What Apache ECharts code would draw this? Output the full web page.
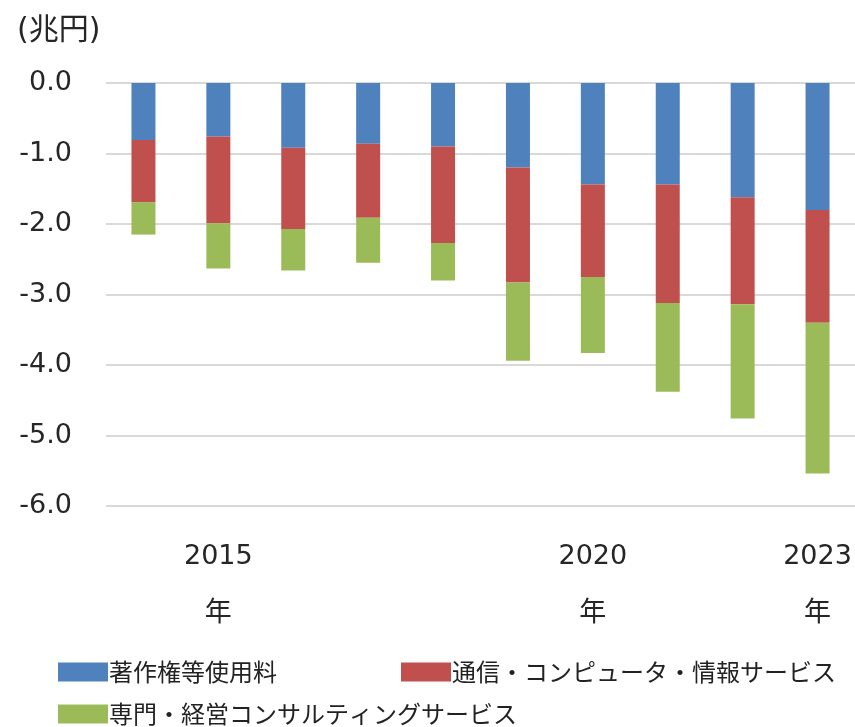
<!DOCTYPE html>
<html>
<head>
<meta charset="utf-8">
<script src="https://cdn.jsdelivr.net/npm/echarts@6/dist/echarts.min.js"></script>
<style>
html,body{margin:0;padding:0;background:#fff;}
#chart{width:855px;height:727px;}
</style>
</head>
<body>
<div id="chart"></div>
<script>
var categories = ['2014','2015','2016','2017','2018','2019','2020','2021','2022','2023'];
var tickLabels = ['', '2015\n年', '', '', '', '', '2020\n年', '', '', '2023\n年'];
var seriesNames = ['著作権等使用料', '通信・コンピュータ・情報サービス', '専門・経営コンサルティングサービス'];
var copyright = [-0.81, -0.76, -0.92, -0.86, -0.90, -1.20, -1.44, -1.44, -1.62, -1.80];
var telecom   = [-0.88, -1.23, -1.15, -1.05, -1.37, -1.63, -1.31, -1.68, -1.52, -1.60];
var consult   = [-0.46, -0.64, -0.59, -0.64, -0.53, -1.11, -1.08, -1.26, -1.62, -2.14];
var yTicks = { min: -6, max: 0, interval: 1 };
var colors = ['#4f81bd', '#c0504d', '#9bbb59'];

var font = 'DejaVu Sans, "Noto Sans CJK JP", sans-serif';
var cjk = '"Noto Sans CJK JP", sans-serif';
var chart = echarts.init(document.getElementById('chart'), null, {renderer: 'canvas'});

function legendFor(i, left, top) {
  return {
    data: [seriesNames[i]],
    left: left, top: top,
    itemWidth: 50, itemHeight: 19, itemGap: 0,
    icon: 'rect',
    selectedMode: false,
    textStyle: { fontFamily: cjk, fontSize: 24, color: '#222', padding: [0, 0, 0, -4] },
    padding: 0
  };
}

chart.setOption({
  animation: false,
  color: colors,
  title: {
    text: '(兆円)', left: 12, top: 11,
    textStyle: { fontFamily: font, fontSize: 30, fontWeight: 'normal', color: '#262626' }
  },
  grid: { left: 106, right: 0, top: 83, bottom: 221, containLabel: false },
  legend: [
    legendFor(0, 58, 660),
    legendFor(1, 401, 660),
    legendFor(2, 58, 702)
  ],
  xAxis: {
    type: 'category',
    data: categories,
    position: 'bottom',
    axisLine: { show: false, onZero: false },
    axisTick: { show: false },
    axisLabel: {
      interval: 0, margin: 22,
      fontFamily: font, fontSize: 27, color: '#262626', lineHeight: 57,
      formatter: function (v, idx) { return tickLabels[idx]; }
    }
  },
  yAxis: {
    type: 'value',
    min: yTicks.min, max: yTicks.max, interval: yTicks.interval,
    axisLine: { show: false },
    axisTick: { show: false },
    splitLine: { lineStyle: { color: '#d9d9d9', width: 2 } },
    axisLabel: {
      margin: 34, fontFamily: font, fontSize: 27, color: '#262626',
      formatter: function (v) { return v.toFixed(1); }
    }
  },
  series: [
    { name: seriesNames[0], type: 'bar', stack: 'a', barWidth: 24, data: copyright },
    { name: seriesNames[1], type: 'bar', stack: 'a', barWidth: 24, data: telecom },
    { name: seriesNames[2], type: 'bar', stack: 'a', barWidth: 24, data: consult }
  ]
});
</script>
</body>
</html>
